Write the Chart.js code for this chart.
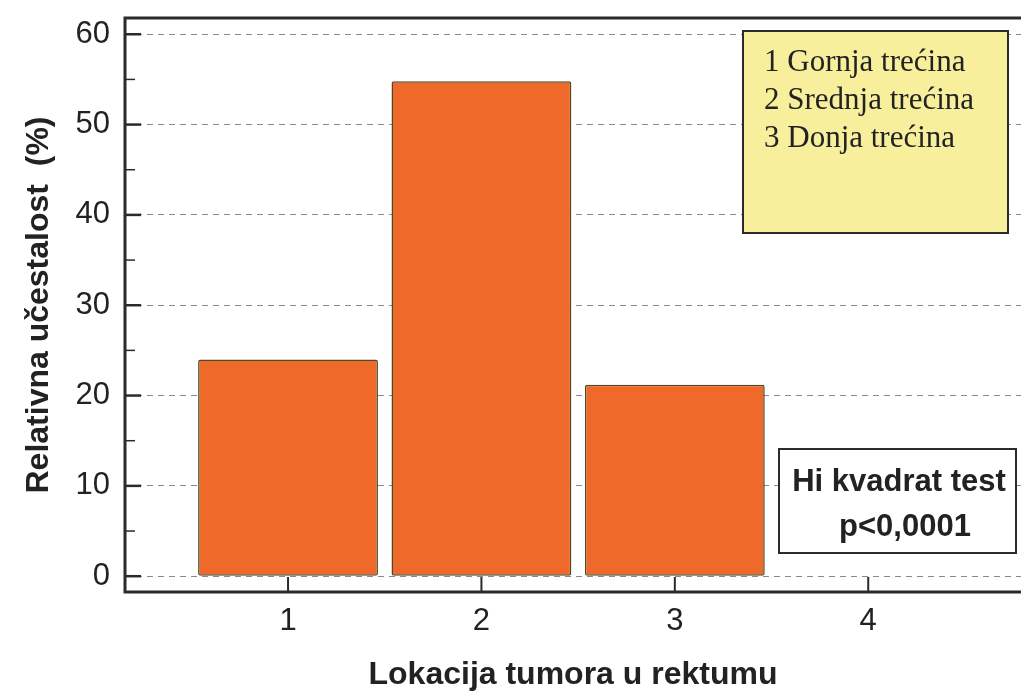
<!DOCTYPE html>
<html>
<head>
<meta charset="utf-8">
<script src="https://cdn.jsdelivr.net/npm/chart.js@4/dist/chart.umd.min.js"></script>
<style>
html, body { margin: 0; padding: 0; background: #fff; overflow: hidden; }
</style>
</head>
<body>
<canvas id="canvas" width="1021" height="698"></canvas>
<script>
// data
var LOCATIONS = [1, 2, 3];
var PERCENTS = [24, 54.8, 21.2];
var X_TICKS = [1, 2, 3, 4];
var Y_TICKS = [0, 10, 20, 30, 40, 50, 60];
var Y_MINOR = [5, 15, 25, 35, 45, 55];
var KEY_LINES = ["1 Gornja trećina", "2 Srednja trećina", "3 Donja trećina"];
var TEST_LINES = ["Hi kvadrat test", "p<0,0001"];

var INK = '#2b2b2b';

var framePlugin = {
	id: 'frame',
	afterDatasetsDraw: function(chart) {
		var ctx = chart.ctx, a = chart.chartArea;
		var xs = chart.scales.x, ys = chart.scales.y;
		function seg(x1, y1, x2, y2) {
			ctx.beginPath(); ctx.moveTo(x1, y1); ctx.lineTo(x2, y2); ctx.stroke();
		}
		ctx.save();
		ctx.strokeStyle = INK;
		ctx.lineWidth = 3;
		ctx.beginPath();
		ctx.moveTo(a.right + 5, a.top);
		ctx.lineTo(a.left, a.top);
		ctx.lineTo(a.left, a.bottom);
		ctx.lineTo(a.right + 5, a.bottom);
		ctx.stroke();

		// inward tick marks
		ctx.lineWidth = 2.5;
		Y_TICKS.forEach(function(v) {
			var y = ys.getPixelForValue(v);
			seg(a.left, y, a.left + 16, y);
		});
		ctx.lineWidth = 1.5;
		Y_MINOR.forEach(function(v) {
			var y = ys.getPixelForValue(v);
			seg(a.left, y, a.left + 10, y);
		});
		ctx.lineWidth = 2;
		X_TICKS.forEach(function(v) {
			var x = xs.getPixelForValue(v);
			seg(x, a.bottom, x, a.bottom - 15);
		});

		// key box (yellow)
		ctx.fillStyle = '#f8ef9c';
		ctx.fillRect(743, 31, 265, 202);
		ctx.lineWidth = 2;
		ctx.strokeRect(743, 31, 265, 202);
		ctx.fillStyle = '#222';
		ctx.font = '31px "Liberation Serif", "DejaVu Serif", serif';
		ctx.textAlign = 'left';
		ctx.textBaseline = 'alphabetic';
		KEY_LINES.forEach(function(t, i) {
			ctx.fillText(t, 764, 71 + i * 38);
		});

		// test box
		ctx.fillStyle = '#fff';
		ctx.fillRect(779, 449, 237, 104);
		ctx.strokeRect(779, 449, 237, 104);
		ctx.fillStyle = '#222';
		ctx.font = 'bold 31px "Liberation Sans", Arial, sans-serif';
		ctx.textAlign = 'center';
		ctx.fillText(TEST_LINES[0], 899, 491);
		ctx.fillText(TEST_LINES[1], 905, 536);
		ctx.restore();
	}
};

window.onload = function() {
	var ctx = document.getElementById("canvas").getContext("2d");
	window.myBar = new Chart(ctx, {
		type: 'bar',
		data: {
			datasets: [{
				data: LOCATIONS.map(function(x, i) { return { x: x, y: PERCENTS[i] }; }),
				backgroundColor: '#ef6a2a',
				borderColor: '#4f4a2c',
				borderWidth: 1.5,
				borderSkipped: false,
				borderRadius: 2,
				categoryPercentage: 1,
				barPercentage: 0.93
			}]
		},
		options: {
			responsive: false,
			animation: false,
			layout: { padding: { left: 0, right: 0, top: 18, bottom: 0 } },
			plugins: {
				legend: { display: false },
				tooltip: { enabled: false }
			},
			scales: {
				x: {
					type: 'linear',
					offset: false,
					min: 0.157,
					max: 4.79,
					afterBuildTicks: function(s) {
						s.ticks = X_TICKS.map(function(v) { return { value: v }; });
					},
					afterFit: function(s) {
						s.height = 106;
						s.paddingLeft = 0; s.paddingRight = 0;
					},
					grid: { display: false, drawTicks: false, offset: false },
					border: { display: false },
					ticks: {
						padding: 11,
						color: '#222',
						font: { family: '"Liberation Sans", Arial, sans-serif', size: 31 }
					},
					title: {
						display: true,
						text: 'Lokacija tumora u rektumu',
						color: '#222',
						padding: { top: 0, bottom: 4 },
						font: { family: '"Liberation Sans", Arial, sans-serif', size: 32, weight: 'bold' }
					}
				},
				y: {
					min: -1.75,
					max: 61.8,
					afterBuildTicks: function(s) {
						s.ticks = Y_TICKS.map(function(v) { return { value: v }; });
					},
					afterFit: function(s) {
						s.width = 125;
						s.paddingTop = 0; s.paddingBottom = 0;
					},
					grid: { color: '#8a8a8a', lineWidth: 1, drawTicks: false },
					border: { display: false, dash: [6, 5] },
					ticks: {
						padding: 15,
						color: '#222',
						font: { family: '"Liberation Sans", Arial, sans-serif', size: 31 }
					},
					title: {
						display: true,
						text: 'Relativna učestalost  (%)',
						color: '#222',
						padding: { top: 20, bottom: 0 },
						font: { family: '"Liberation Sans", Arial, sans-serif', size: 32, weight: 'bold' }
					}
				}
			}
		},
		plugins: [framePlugin]
	});
};
</script>
</body>
</html>
